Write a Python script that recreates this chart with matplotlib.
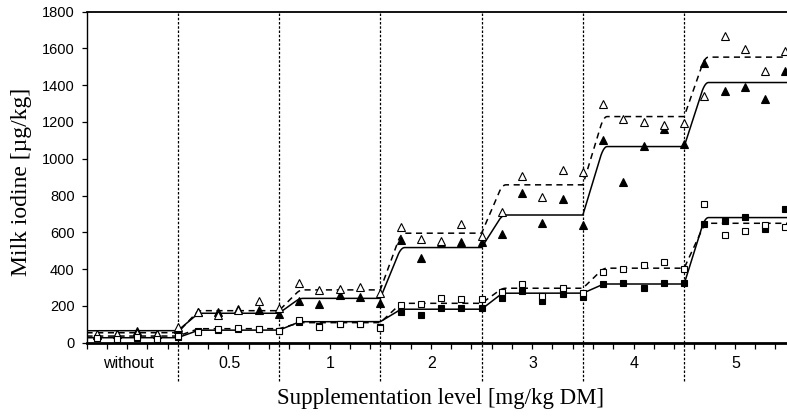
import numpy as np
import matplotlib
matplotlib.use('Agg')
import matplotlib.pyplot as plt

# supplementation levels (7 periods, 5 samplings each)
niveles = ['without', '0.5', '1', '2', '3', '4', '5']

# measured milk iodine per sampling [µg/kg]
tri_abierto = [50, 45, 55, 50, 88,
               165, 150, 178, 227, 190,
               326, 287, 292, 305, 269,
               627, 566, 555, 646, 580,
               712, 906, 794, 939, 930,
               1298, 1215, 1202, 1184, 1193,
               1341, 1668, 1596, 1479, 1588]
tri_lleno = [42, 47, 62, 47, 76,
             169, 168, 182, 180, 158,
             228, 209, 259, 247, 218,
             558, 462, 544, 548, 548,
             591, 816, 649, 780, 640,
             1099, 872, 1070, 1162, 1080,
             1519, 1370, 1389, 1324, 1474]
cua_abierto = [25, 18, 29, 18, 36,
               58, 76, 80, 74, 62,
               123, 87, 102, 102, 80,
               205, 210, 241, 236, 238,
               274, 319, 254, 299, 269,
               383, 399, 422, 441, 399,
               754, 586, 609, 640, 627]
cua_lleno = [28, 20, 26, 22, 30,
             62, 70, 72, 72, 64,
             115, 92, 104, 104, 84,
             165, 152, 187, 187, 187,
             245, 283, 228, 263, 247,
             318, 323, 299, 323, 323,
             645, 662, 685, 617, 725]

# plateau of the fitted curve in each period
nivel_tri_abierto = [54, 174, 287, 595, 858, 1229, 1552]
nivel_tri_lleno = [65, 160, 241, 517, 694, 1066, 1414]
nivel_cua_abierto = [36, 76, 109, 214, 296, 405, 649]
nivel_cua_lleno = [27, 68, 114, 182, 269, 319, 680]

n_per = 5
ensayo = np.arange(1, len(tri_lleno) + 1)


def forma(t, t0=0.7):
    # linear rise that rounds off into the new plateau
    s = 2 / (1 + t0)
    return np.where(t <= t0, s * t, s * t0 + s * (t - t0) - s * (t - t0) ** 2 / (2 * (1 - t0)))


def curva(niv, ancho=1.2):
    k = np.linspace(0.5, 35.5, 3000)
    y = np.full_like(k, niv[0], dtype=float)
    for i in range(1, len(niv)):
        t = np.clip((k - n_per * i) / ancho, 0, 1)
        y += (niv[i] - niv[i - 1]) * forma(t)
    return k, y


fig = plt.figure(figsize=(7.87, 4.18), dpi=100)
ax = fig.add_axes([86.5 / 787, 75.3 / 418, 0.901, 331.2 / 418])

guion = (0, (4, 3))
for niv, ls in [(nivel_tri_abierto, guion), (nivel_tri_lleno, '-'),
                (nivel_cua_abierto, guion), (nivel_cua_lleno, '-')]:
    k, y = curva(niv)
    ax.plot(k, y, color='black', lw=1.1, linestyle=ls, zorder=3)

ax.plot(ensayo, tri_lleno, '^', ms=6.3, mfc='black', mec='black', mew=0.8, zorder=4)
ax.plot(ensayo, tri_abierto, '^', ms=6.3, mfc='white', mec='black', mew=0.8, zorder=5)
ax.plot(ensayo, cua_lleno, 's', ms=5, mfc='black', mec='black', mew=0.8, zorder=4)
ax.plot(ensayo, cua_abierto, 's', ms=5, mfc='white', mec='black', mew=0.8, zorder=5)

# period separators, drawn down through the category labels
for i in range(1, len(niveles)):
    ax.axvline(n_per * i, ymin=-0.115, ymax=1, color='black', lw=0.9,
               linestyle=(0, (2, 1.4)), clip_on=False, zorder=2)

ax.set_xlim(0.5, 35.5)
ax.set_ylim(0, 1800)
ax.set_yticks(np.arange(0, 1801, 200))
ax.set_xticks(np.arange(0.5, 35.6, 1))
ax.set_xticklabels([])
ax.tick_params(axis='x', direction='out', length=4, width=0.9)
ax.tick_params(axis='y', direction='out', length=3.5, width=0.9, pad=5)
for lab in ax.get_yticklabels():
    lab.set_fontfamily('Liberation Sans')
    lab.set_fontsize(10.5)

ax.spines['right'].set_visible(False)
ax.spines['bottom'].set_linewidth(2.0)
ax.spines['left'].set_linewidth(1.0)
ax.spines['top'].set_linewidth(1.3)

for i, nom in enumerate(niveles):
    ax.text(n_per * i + 2.55, -0.064, nom, transform=ax.get_xaxis_transform(),
            ha='center', va='center', fontsize=11.5, family='Liberation Sans')

ax.text(0.5, -0.168, 'Supplementation level [mg/kg DM]', transform=ax.transAxes,
        ha='center', va='center', fontsize=16.5, family='Liberation Serif')
ax.text(-0.091, 0.486, 'Milk iodine [µg/kg]', transform=ax.transAxes, rotation=90,
        ha='center', va='center', fontsize=17, family='Liberation Serif')

fig.savefig('out.png', dpi=100)
